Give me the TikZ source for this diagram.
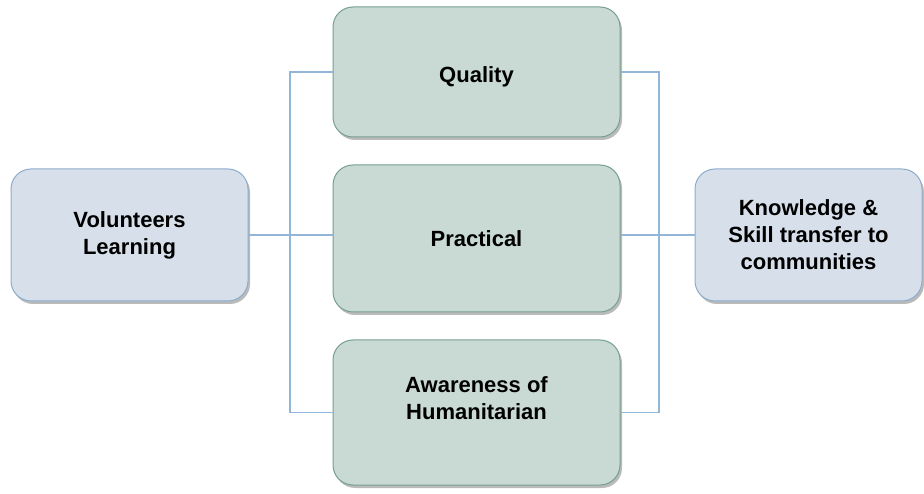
\documentclass[tikz,border=0pt]{standalone}
\usepackage{fontspec}
\setmainfont{Liberation Sans}
\usetikzlibrary{shadows,positioning}
\definecolor{bluefill}{RGB}{214,223,234}
\definecolor{bluedraw}{RGB}{140,172,204}
\definecolor{greenfill}{RGB}{201,218,212}
\definecolor{greendraw}{RGB}{118,160,142}
\definecolor{linkcol}{RGB}{146,182,216}
\tikzset{
  box/.style={rounded corners=20pt, line width=1pt, align=center,
    font=\bfseries\fontsize{22}{27}\selectfont, inner sep=0pt,
    drop shadow={shadow xshift=2pt, shadow yshift=-3pt, opacity=0.45, fill=black!60}},
  sidebox/.style={box, fill=bluefill, draw=bluedraw},
  midbox/.style={box, fill=greenfill, draw=greendraw},
  link/.style={draw=linkcol, line width=1.1pt}
}
\begin{document}
\begin{tikzpicture}[x=1pt,y=-1pt]
\useasboundingbox (0,0) rectangle (924,494);
\node[sidebox, minimum width=237pt, minimum height=132pt] (vl) at (129.5,235) {Volunteers\\Learning};
\node[midbox, minimum width=287pt, minimum height=130pt] (q) at (476.5,72) {\raisebox{-5pt}[\height][\depth]{Quality}};
\node[midbox, minimum width=287pt, minimum height=147pt] (p) at (476.5,238.5) {Practical};
\node[midbox, minimum width=287pt, minimum height=145pt] (a) at (476.5,412.5) {\raisebox{12pt}[\height][\depth]{\begin{tabular}{@{}c@{}}Awareness of\\Humanitarian\end{tabular}}};
\node[sidebox, minimum width=227pt, minimum height=132pt] (k) at (808.5,235) {Knowledge \&\\Skill transfer to\\communities};
\coordinate (lj) at (290,235);
\coordinate (rj) at (659,235);
\draw[link] (vl.east |- lj) -- (lj);
\draw[link] (lj) -- (p.west |- lj);
\draw[link] (q.west) -| (lj |- a.west) -- (a.west);
\draw[link] (q.east) -| (rj |- a.east) -- (a.east);
\draw[link] (p.east |- rj) -- (rj) -- (k.west |- rj);
\end{tikzpicture}
\end{document}
